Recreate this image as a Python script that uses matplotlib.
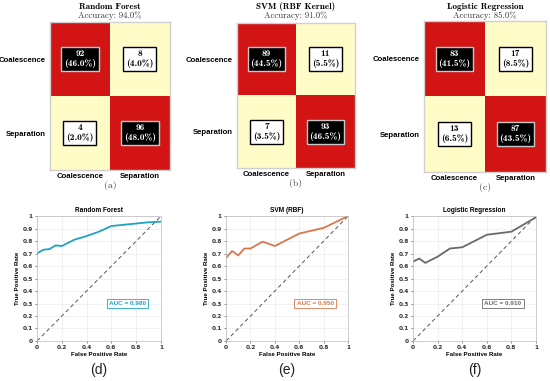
import numpy as np
import matplotlib
matplotlib.use("Agg")
import matplotlib.pyplot as plt
from matplotlib.colors import ListedColormap, BoundaryNorm
from matplotlib.ticker import FuncFormatter

# ---- confusion matrix data ----
klasy = ["Coalescence", "Separation"]
cm_tytuly = ["Random Forest", "SVM (RBF Kernel)", "Logistic Regression"]
cm_dokladnosc = ["94.0%", "91.0%", "85.0%"]
cm_rf = [[92, 8], [4, 96]]
cm_svm = [[89, 11], [7, 93]]
cm_lr = [[83, 17], [13, 87]]
cm_etykiety = ["(a)", "(b)", "(c)"]

# ---- ROC data ----
roc_tytuly = ["Random Forest", "SVM (RBF)", "Logistic Regression"]
fpr_rf = [0, 0.05, 0.1, 0.15, 0.2, 0.3, 0.4, 0.5, 0.6, 0.8, 0.9, 1.0]
tpr_rf = [0.70, 0.73, 0.735, 0.765, 0.76, 0.81, 0.84, 0.875, 0.92, 0.94, 0.95, 0.955]
fpr_svm = [0, 0.05, 0.1, 0.15, 0.2, 0.3, 0.4, 0.5, 0.6, 0.8, 1.0]
tpr_svm = [0.665, 0.72, 0.685, 0.74, 0.74, 0.795, 0.76, 0.81, 0.86, 0.905, 1.0]
fpr_lr = [0, 0.05, 0.1, 0.2, 0.3, 0.4, 0.5, 0.6, 0.8, 1.0]
tpr_lr = [0.635, 0.66, 0.625, 0.675, 0.74, 0.75, 0.80, 0.85, 0.875, 0.99]
auc = [0.980, 0.950, 0.910]
roc_kolory = ["#1fa3c4", "#d9774c", "#6a6a6a"]
roc_etykiety = ["(d)", "(e)", "(f)"]

fig = plt.figure(figsize=(5.5, 3.81), dpi=100)

cm_pozycje = [[0.0909, 0.5538, 0.218, 0.388],
              [0.4309, 0.5590, 0.2145, 0.381],
              [0.7709, 0.5486, 0.2218, 0.396]]
roc_pozycje = [[0.0673, 0.105, 0.2255, 0.328],
               [0.4110, 0.105, 0.2220, 0.328],
               [0.7510, 0.105, 0.2236, 0.328]]

cmapa = ListedColormap(["#fffcc8", "#d21414"])
norma = BoundaryNorm([0, 50, 101], 2)
serif = ["cmr10", "DejaVu Serif"]
serif_b = ["cmb10", "DejaVu Serif"]
sans = ["Liberation Sans", "DejaVu Sans"]

# ---- confusion matrices ----
for i, macierz in enumerate([cm_rf, cm_svm, cm_lr]):
    ax = fig.add_axes(cm_pozycje[i])
    m = np.array(macierz)
    ax.imshow(m, cmap=cmapa, norm=norma, aspect="auto")
    suma = m.sum()
    for r in range(2):
        for c in range(2):
            diag = r == c
            ax.text(c, r, f"{m[r, c]}\n({100 * m[r, c] / suma:.1f}%)",
                    ha="center", va="center", fontsize=6.8, family=serif_b,
                    color="white" if diag else "black", linespacing=1.15,
                    bbox=dict(boxstyle="square,pad=0.3",
                              fc="black" if diag else "white",
                              ec="#c8c8c8" if diag else "black", lw=1.0))
    ax.set_xticks([0, 1])
    ax.set_yticks([0, 1])
    ax.set_xticklabels(klasy, fontsize=5.6, fontweight="bold", family=sans)
    ax.set_yticklabels(klasy, fontsize=5.6, fontweight="bold", family=sans)
    ax.tick_params(axis="y", length=0, pad=3)
    ax.tick_params(axis="x", length=0, pad=2)
    for s in ax.spines.values():
        s.set_edgecolor("#d0d0d0")
        s.set_linewidth(1.0)
    x0, y0, w, h = cm_pozycje[i]
    fig.text(x0 + w / 2, 0.982, cm_tytuly[i], ha="center", va="center",
             fontsize=6.5, family=serif_b)
    fig.text(x0 + w / 2, 0.960, "Accuracy: " + cm_dokladnosc[i], ha="center",
             va="center", fontsize=6.3, family=serif, color="#333333")
    fig.text(x0 + w / 2, y0 - 0.040, cm_etykiety[i], ha="center", va="center",
             fontsize=7, family=serif, color="#444444")

# ---- ROC curves ----
for i, (fpr, tpr) in enumerate([(fpr_rf, tpr_rf), (fpr_svm, tpr_svm), (fpr_lr, tpr_lr)]):
    ax = fig.add_axes(roc_pozycje[i])
    ax.plot([0, 1], [0, 1], ls=(0, (4, 3)), color="#555555", lw=0.7)
    ax.plot(fpr, tpr, color=roc_kolory[i], lw=1.3)
    ax.set_xlim(0, 1)
    ax.set_ylim(0, 1)
    ax.set_xticks(np.arange(0, 1.01, 0.2))
    ax.set_yticks(np.arange(0, 1.01, 0.1))
    fmt = FuncFormatter(lambda v, p: f"{v:g}" if abs(v) > 1e-9 else "0")
    ax.xaxis.set_major_formatter(fmt)
    ax.yaxis.set_major_formatter(fmt)
    ax.tick_params(labelsize=4.2, length=1.5, width=0.4, pad=1.5, colors="#333333")
    for lab in ax.get_xticklabels() + ax.get_yticklabels():
        lab.set_fontweight("bold")
    ax.grid(True, color="#e6e6e6", lw=0.4)
    for s in ax.spines.values():
        s.set_edgecolor("#bbbbbb")
        s.set_linewidth(0.5)
    ax.set_title(roc_tytuly[i], fontsize=4.7, fontweight="bold", pad=3, family=sans)
    ax.set_xlabel("False Positive Rate", fontsize=4.4, fontweight="bold", labelpad=1.5, family=sans)
    ax.set_ylabel("True Positive Rate", fontsize=4.4, fontweight="bold", labelpad=1.5, family=sans)
    ax.text(0.73, 0.30, f"AUC = {auc[i]:.3f}", transform=ax.transAxes, ha="center",
            va="center", fontsize=4.6, fontweight="bold", color=roc_kolory[i], family=sans,
            bbox=dict(boxstyle="square,pad=0.35", fc="white", ec=roc_kolory[i], lw=0.6))
    x0, y0, w, h = roc_pozycje[i]
    fig.text(x0 + w / 2, 1 - 370 / 381, roc_etykiety[i], ha="center", va="center",
             fontsize=10, family=sans, color="#222222")

fig.savefig("out.png", dpi=100)
